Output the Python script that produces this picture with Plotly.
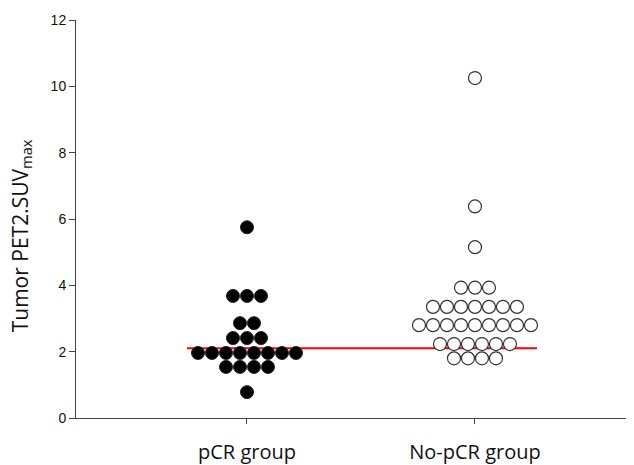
import plotly.graph_objects as go
from collections import Counter

categories = ["pCR group", "No-pCR group"]
pcr_values = [5.75, 3.68, 3.68, 3.68, 2.86, 2.86, 2.41, 2.41, 2.41,
              1.96, 1.96, 1.96, 1.96, 1.96, 1.96, 1.96, 1.96,
              1.54, 1.54, 1.54, 1.54, 0.78]
nopcr_values = [10.25, 6.38, 5.15, 3.93, 3.93, 3.93,
                3.35, 3.35, 3.35, 3.35, 3.35, 3.35, 3.35,
                2.80, 2.80, 2.80, 2.80, 2.80, 2.80, 2.80, 2.80, 2.80,
                2.23, 2.23, 2.23, 2.23, 2.23, 2.23,
                1.80, 1.80, 1.80, 1.80]
cutoff = 2.1
y_ticks = [0, 2, 4, 6, 8, 10, 12]
y_title = "Tumor PET2.SUV<sub>max</sub>"

SPACING = 0.0614


def swarm(values, center):
    xs, ys = [], []
    counts = Counter(values)
    for v, n in counts.items():
        for i in range(n):
            xs.append(center + (i - (n - 1) / 2) * SPACING)
            ys.append(v)
    return xs, ys


fig = go.Figure()
x1, y1 = swarm(pcr_values, 1)
x2, y2 = swarm(nopcr_values, 2)

fig.add_trace(go.Scatter(
    x=[0.737, 2.272], y=[cutoff, cutoff], mode="lines",
    line=dict(color="#ff0000", width=2), hoverinfo="skip"))
fig.add_trace(go.Scatter(
    x=x1, y=y1, mode="markers",
    marker=dict(size=13, color="black", line=dict(color="#222", width=1))))
fig.add_trace(go.Scatter(
    x=x2, y=y2, mode="markers",
    marker=dict(size=13, color="white", line=dict(color="#333", width=1.2))))

# page body has an 8px default margin, so the figure is offset by (8, 8)
fig.update_layout(
    width=626, height=457,
    margin=dict(l=68, r=4, t=12, b=47),
    plot_bgcolor="white", paper_bgcolor="white",
    showlegend=False,
    font=dict(family="Liberation Sans, Arial", color="#222"),
)
fig.update_xaxes(
    range=[0.25, 2.68], tickvals=[1, 2], ticktext=categories,
    showline=True, linecolor="#444", linewidth=1,
    ticks="outside", ticklen=5, tickcolor="#444",
    showgrid=False, zeroline=False, automargin=False,
    tickfont=dict(family="Open Sans", size=20, color="#111"),
    ticklabelstandoff=11,
)
fig.update_yaxes(
    range=[0, 12], tickvals=y_ticks,
    showline=True, linecolor="#444", linewidth=1,
    ticks="outside", ticklen=6, tickcolor="#444",
    showgrid=False, zeroline=False, automargin=False,
    tickfont=dict(family="Liberation Sans, Arial", size=14, color="#111"),
)
fig.add_annotation(
    text=y_title, textangle=-90, showarrow=False,
    xref="paper", yref="paper", x=-0.099, y=0.457,
    xanchor="center", yanchor="middle",
    font=dict(family="Open Sans", size=21, color="#111"),
)

fig.write_html("out.html")
